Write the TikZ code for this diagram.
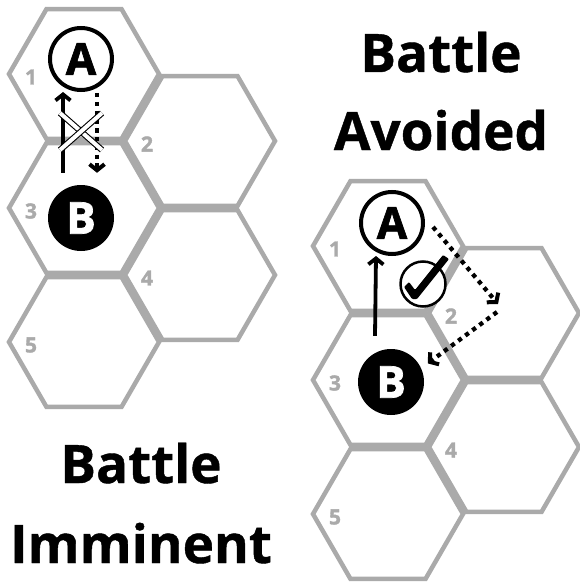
\documentclass[tikz,border=0pt]{standalone}
\usepackage{fontspec}
\setmainfont{Open Sans}[BoldFeatures={FakeBold=0.8}]
\newfontfamily\heavy{Open Sans}[BoldFeatures={FakeBold=1.6}]
\usetikzlibrary{arrows.meta,calc}
\definecolor{hexgray}{RGB}{170,170,170}
\tikzset{
  hexline/.style={draw=hexgray, line width=4.5pt, line join=miter},
  numlabel/.style={text=hexgray, font=\heavy\fontsize{21}{21}\selectfont\bfseries, inner sep=0pt},
  tokA/.style={circle, draw=black, fill=white, line width=4pt, minimum size=62pt, inner sep=0pt, font=\heavy\fontsize{44}{44}\selectfont\bfseries},
  tokB/.style={circle, fill=black, text=white, minimum size=66pt, inner sep=0pt, font=\heavy\fontsize{44}{44}\selectfont\bfseries},
  move/.style={line width=3.8pt, -{Straight Barb[length=6pt,width=15pt,line width=3.8pt]}},
  dotmove/.style={line width=4.3pt, dash pattern=on 4.3pt off 4.5pt, -{Straight Barb[length=6pt,width=15pt,line width=4pt]}},
  xmark/.style={draw=black, line width=1.1pt, double=white, double distance=4pt},
  title/.style={font=\fontsize{53}{53}\selectfont\bfseries, anchor=base, inner sep=0pt},
}
\newcommand\hexcell[1]{\draw[hexline] (#1) +(0:75) -- +(60:75) -- +(120:75) -- +(180:75) -- +(240:75) -- +(300:75) -- cycle;}
\begin{document}
\begin{tikzpicture}[x=1pt,y=-1pt]
\useasboundingbox[fill=white] (0,0) rectangle (579,583);
% left grid
\foreach \c/\n/\lab in {{84,74}/1/l1,{200,141}/2/l2,{84,208}/3/l3,{200,275}/4/l4,{84,342}/5/l5}{
  \hexcell{\c}
  \node[numlabel] (\lab) at ($(\c)+(-53,3)$) {\n};
}
% right grid
\foreach \c/\n/\lab in {{388,246}/1/r1,{504,313}/2/r2,{388,380}/3/r3,{504,447}/4/r4,{388,514}/5/r5}{
  \hexcell{\c}
  \node[numlabel] (\lab) at ($(\c)+(-53,3)$) {\n};
}
% left tokens
\node[tokA] (lA) at (81,59) {A};
\node[tokB] (lB) at (81,218) {B};
\draw[move] ([xshift=-18pt,yshift=12pt]lB.north) -- ([xshift=-18pt]lA.south);
\draw[dotmove] ([xshift=16pt,yshift=-1pt]lA.south) -- ([xshift=16pt,yshift=12pt]lB.north);
\draw[xmark] (60,113) -- (102,150);
\draw[xmark] (60,150) -- (102,113);
% right tokens
\node[tokA] (rA) at (392,223) {A};
\node[tokB] (rB) at (391,382) {B};
\coordinate (rC1) at (498,304);
\coordinate (rC2) at (497,312);
\draw[move] ([xshift=-16pt,yshift=13pt]rB.north) -- ([xshift=-16pt]rA.south);
\draw[dotmove] ([xshift=8pt,yshift=-4pt]rA.east) -- (rC1);
\draw[dotmove] (rC2) -- ([shift={(8pt,2pt)}]rB.30);
\node[circle, draw=black, fill=white, line width=2.5pt, minimum size=45pt, inner sep=0pt] (chk) at (423,284) {};
\fill[black, rounded corners=1pt] (404,287) -- (409,282) -- (415,290) -- (443,255) -- (449,259) -- (417,299) -- (412,299) -- cycle;
% titles
\node[title] (t1a) at (441,72) {Battle};
\node[title] (t1b) at (441,150) {Avoided};
\node[title] (t2a) at (141,483) {Battle};
\node[title] (t2b) at (141,563) {Imminent};
\end{tikzpicture}
\end{document}
